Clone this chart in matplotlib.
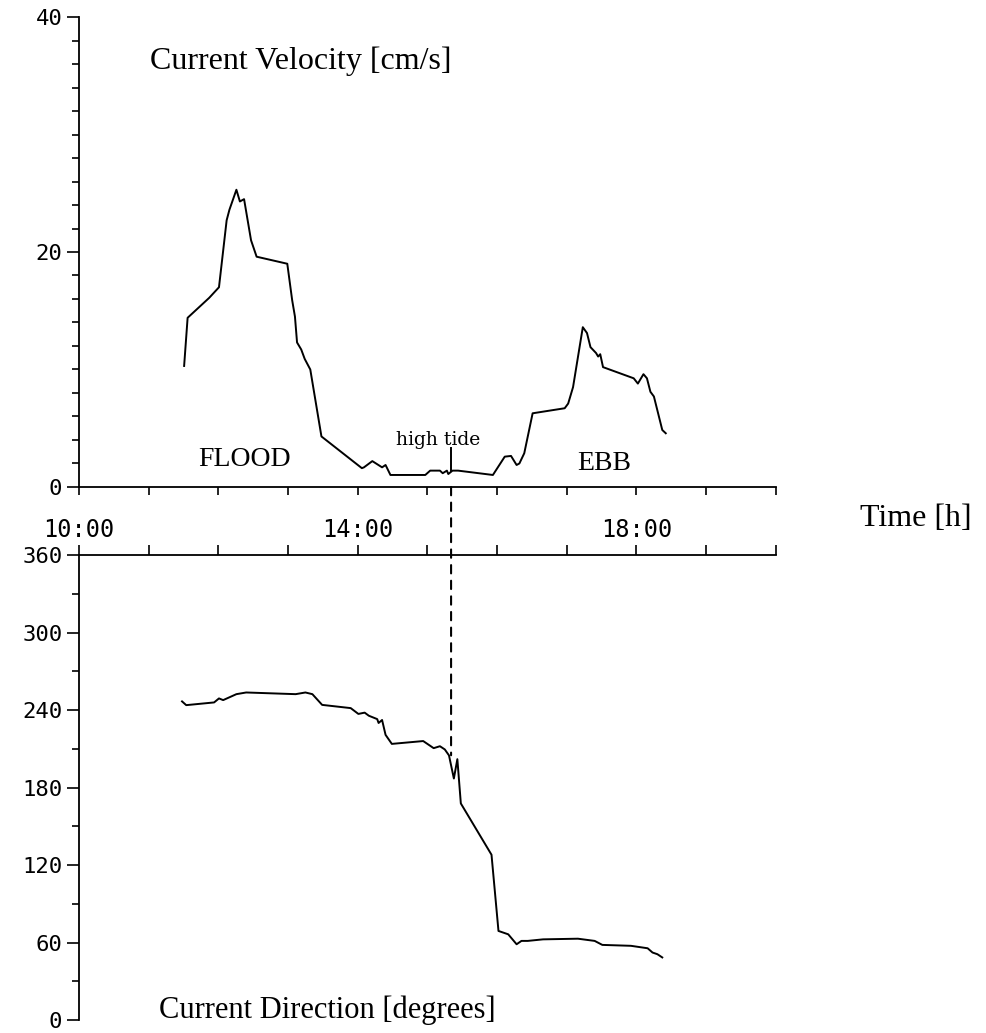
import numpy as np
import matplotlib
matplotlib.use("Agg")
import matplotlib.pyplot as plt
from matplotlib.patches import ConnectionPatch
from matplotlib.ticker import MultipleLocator, FixedLocator, FuncFormatter


# current velocity [cm/s] vs time [h]
t_vel = [11.51, 11.56, 11.87, 12.01, 12.12, 12.16, 12.26, 12.31, 12.37, 12.47,
         12.55, 12.99, 13.06, 13.10, 13.13, 13.19, 13.24, 13.32, 13.48, 14.06,
         14.09, 14.21, 14.35, 14.40, 14.47, 14.97, 15.04, 15.18, 15.22, 15.28,
         15.30, 15.36, 15.44, 15.94, 16.11, 16.20, 16.28, 16.32, 16.39, 16.51,
         16.97, 17.02, 17.09, 17.23, 17.29, 17.34, 17.42, 17.45, 17.48, 17.52,
         17.96, 18.02, 18.10, 18.15, 18.20, 18.25, 18.37, 18.42]
vel = [10.3, 14.4, 16.1, 17.0, 22.7, 23.6, 25.3, 24.3, 24.5, 21.0,
       19.6, 19.0, 15.9, 14.5, 12.3, 11.7, 10.9, 10.0, 4.3, 1.6,
       1.67, 2.2, 1.67, 1.87, 1.02, 1.02, 1.39, 1.39, 1.17, 1.39,
       1.1, 1.39, 1.39, 1.02, 2.58, 2.64, 1.87, 2.0, 2.87, 6.27,
       6.7, 7.1, 8.5, 13.6, 13.1, 11.9, 11.4, 11.1, 11.3, 10.2,
       9.25, 8.8, 9.6, 9.25, 8.1, 7.7, 4.85, 4.57]

# current direction [degrees] vs time [h]
t_dir = [11.48, 11.54, 11.94, 12.01, 12.07, 12.26, 12.40, 13.11, 13.25, 13.35,
         13.49, 13.90, 14.01, 14.10, 14.16, 14.28, 14.30, 14.35, 14.40, 14.49,
         14.94, 15.09, 15.18, 15.25, 15.31, 15.38, 15.43, 15.48, 15.92, 16.02,
         16.16, 16.28, 16.35, 16.44, 16.66, 17.16, 17.40, 17.51, 17.92, 18.16,
         18.23, 18.30, 18.37]
direc = [246.7, 243.8, 245.9, 249.0, 247.7, 252.3, 253.6, 252.3, 253.6, 252.3,
         244.0, 241.5, 237.0, 238.0, 235.6, 233.0, 230.0, 232.3, 220.8, 213.8,
         216.0, 210.5, 212.0, 209.5, 204.9, 187.0, 202.0, 167.7, 128.0, 69.0,
         66.4, 58.7, 61.3, 61.3, 62.5, 63.0, 61.3, 58.2, 57.5, 55.6,
         52.3, 51.0, 48.5]

high_tide = 15.34
time_labels = {10: "10:00", 14: "14:00", 18: "18:00"}

plt.rcParams['font.family'] = ['DejaVu Sans Mono']
serif = 'Liberation Serif'

fig = plt.figure(figsize=(9.86, 10.33), dpi=100)
ax1 = fig.add_axes([0.080, 0.5286, 0.7069, 0.4549])
ax2 = fig.add_axes([0.080, 0.0125, 0.7069, 0.4502])

# upper panel: velocity
ax1.plot(t_vel, vel, color='black', lw=1.4)
ax1.set_xlim(10, 20)
ax1.set_ylim(0, 40)
ax1.spines['top'].set_visible(False)
ax1.spines['right'].set_visible(False)
ax1.xaxis.set_major_locator(FixedLocator([10, 14, 18]))
ax1.xaxis.set_minor_locator(MultipleLocator(1))
ax1.xaxis.set_major_formatter(FuncFormatter(lambda v, p: time_labels.get(int(round(v)), "")))
ax1.yaxis.set_major_locator(MultipleLocator(20))
ax1.yaxis.set_minor_locator(MultipleLocator(2))
ax1.tick_params(axis='x', which='both', direction='out', length=6, width=1.2, pad=16, labelsize=17)
ax1.tick_params(axis='y', which='major', direction='out', length=9, width=1.2, labelsize=16, pad=3)
ax1.tick_params(axis='y', which='minor', direction='out', length=5, width=1.2)

ax1.text(11.02, 36.2, "Current Velocity [cm/s]", family=serif, fontsize=23, va='center')
ax1.text(12.37, 2.3, "FLOOD", family=serif, fontsize=20, ha='center', va='center')
ax1.text(17.53, 1.96, "EBB", family=serif, fontsize=20, ha='center', va='center')
ax1.text(15.16, 3.57, "high tide", family='DejaVu Serif', fontsize=13.5,
         ha='center', va='baseline')
ax1.plot([high_tide, high_tide], [1.4, 3.3], color='black', lw=1.4)

# lower panel: direction
ax2.plot(t_dir, direc, color='black', lw=1.4)
ax2.set_xlim(10, 20)
ax2.set_ylim(0, 360)
ax2.spines['bottom'].set_visible(False)
ax2.spines['right'].set_visible(False)
ax2.xaxis.set_ticks_position('top')
ax2.xaxis.set_major_locator(MultipleLocator(1))
ax2.tick_params(axis='x', which='both', direction='out', length=7, width=1.2, labeltop=False, labelbottom=False)
ax2.yaxis.set_major_locator(MultipleLocator(60))
ax2.yaxis.set_minor_locator(MultipleLocator(30))
ax2.tick_params(axis='y', which='major', direction='out', length=9, width=1.2, labelsize=16, pad=3)
ax2.tick_params(axis='y', which='minor', direction='out', length=5, width=1.2)

ax2.text(11.15, 8, "Current Direction [degrees]", family=serif, fontsize=22, va='center')

for ax in (ax1, ax2):
    for s in ax.spines.values():
        s.set_linewidth(1.3)

# dashed high tide marker across both panels
con = ConnectionPatch(xyA=(high_tide, 0), coordsA=ax1.transData,
                      xyB=(high_tide, 205), coordsB=ax2.transData,
                      color='black', lw=1.5, linestyle=(0, (4, 3.5)))
fig.add_artist(con)

fig.text(0.872, 1 - 518 / 1033, "Time [h]", family=serif, fontsize=23, va='center')

fig.savefig("out.png", dpi=100)
